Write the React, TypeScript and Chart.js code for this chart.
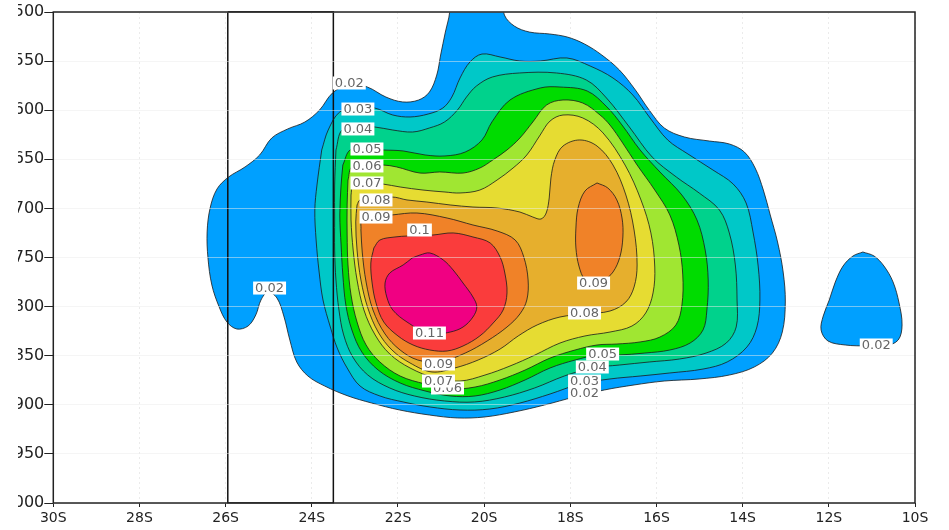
import React, { useEffect, useRef } from 'react';
import { Chart, registerables } from 'chart.js';

Chart.register(...registerables);

type Pt = [number, number]; // [latitude (negative = south), pressure hPa]

// ---- axes ----
const latTicks = [-30, -28, -26, -24, -22, -20, -18, -16, -14, -12, -10];
const pressureTicks = [500, 550, 600, 650, 700, 750, 800, 850, 900, 950, 1000];
const boxLats = [-25.95, -23.5];
const boxPressures = [500, 1000];

// ---- contour outlines ----
const contour002Main: Pt[] = [
  [-20.8, 477.6], [-19.64, 477.6], [-19.53, 503.1], [-19.3, 514.3], [-18.95, 520.4], [-18.48, 522.4],
  [-18.07, 525.5], [-17.67, 532.6], [-17.27, 543.8], [-16.86, 559.1], [-16.49, 579.4], [-16.17, 599.8],
  [-15.82, 618.1], [-15.35, 627.3], [-14.77, 631.4], [-14.31, 634.4], [-13.96, 642.6], [-13.71, 658.9],
  [-13.52, 681.3], [-13.36, 706.7], [-13.19, 734.2], [-13.06, 764.8], [-13.01, 795.3], [-13.08, 825.9],
  [-13.31, 847.3], [-13.73, 861.5], [-14.31, 869.7], [-15.01, 873.7], [-15.82, 875.8], [-16.52, 879.8],
  [-17.21, 884.9], [-17.91, 892.1], [-18.6, 900.2], [-19.3, 907.3], [-19.99, 912.4], [-20.62, 913.4],
  [-21.27, 910.4], [-21.96, 905.3], [-22.61, 898.2], [-23.16, 891.0], [-23.7, 880.9], [-24.09, 870.7],
  [-24.35, 856.4], [-24.51, 834.0], [-24.65, 809.6], [-24.81, 791.2], [-25.02, 785.1], [-25.18, 793.3],
  [-25.3, 808.5], [-25.48, 819.8], [-25.74, 822.8], [-25.97, 815.7], [-26.15, 800.4], [-26.32, 778.0],
  [-26.41, 750.5], [-26.43, 724.0], [-26.36, 699.6], [-26.2, 680.2], [-25.93, 668.0], [-25.55, 657.8],
  [-25.21, 645.6], [-24.93, 628.3], [-24.56, 619.1], [-24.16, 612.0], [-23.82, 599.8], [-23.52, 582.5],
  [-23.12, 573.3], [-22.71, 576.4], [-22.28, 586.6], [-21.89, 591.6], [-21.52, 589.6], [-21.27, 581.5],
  [-21.1, 564.2], [-21.01, 543.8], [-20.9, 520.4], [-20.8, 500.0], [-20.8, 477.6],
];
const contour002East: Pt[] = [
  [-11.21, 744.4], [-10.95, 748.5], [-10.72, 758.7], [-10.51, 774.9], [-10.37, 796.3], [-10.3, 818.7],
  [-10.39, 834.0], [-10.69, 840.1], [-11.11, 840.1], [-11.62, 839.1], [-12.02, 835.0], [-12.18, 823.8],
  [-12.13, 809.6], [-11.99, 793.3], [-11.85, 775.0], [-11.67, 758.7], [-11.44, 748.5], [-11.21, 744.4],
];
const contour003: Pt[] = [
  [-23.77, 640.5], [-23.62, 620.2], [-23.35, 601.8], [-22.93, 597.8], [-22.54, 597.8], [-22.12, 604.9],
  [-21.72, 606.9], [-21.3, 603.9], [-20.96, 597.8], [-20.75, 586.6], [-20.56, 567.2], [-20.33, 550.9],
  [-20.05, 542.8], [-19.63, 545.8], [-19.17, 549.9], [-18.7, 549.9], [-18.08, 546.8], [-17.54, 555.0],
  [-17.01, 567.2], [-16.55, 584.5], [-16.15, 607.9], [-15.74, 630.3], [-15.27, 644.6], [-14.69, 660.9],
  [-14.22, 675.2], [-13.92, 694.5], [-13.76, 724.0], [-13.64, 758.7], [-13.6, 793.3], [-13.67, 820.8],
  [-13.9, 841.1], [-14.36, 856.4], [-14.92, 863.6], [-15.69, 867.6], [-16.38, 870.7], [-17.08, 873.7],
  [-17.78, 878.8], [-18.47, 889.0], [-19.17, 898.2], [-19.87, 904.3], [-20.56, 905.3], [-21.26, 902.2],
  [-21.88, 897.1], [-22.42, 891.0], [-22.88, 880.9], [-23.18, 862.5], [-23.41, 842.2], [-23.57, 820.8],
  [-23.74, 793.3], [-23.83, 764.8], [-23.9, 732.2], [-23.93, 701.6], [-23.88, 676.2], [-23.77, 640.5],
];
const contour004: Pt[] = [
  [-23.44, 640.5], [-23.3, 620.2], [-22.93, 617.1], [-22.54, 617.1], [-22.12, 620.2], [-21.66, 622.2],
  [-21.27, 618.1], [-20.92, 612.0], [-20.62, 599.8], [-20.41, 586.6], [-20.18, 575.4], [-19.81, 566.2],
  [-19.18, 562.1], [-18.32, 562.1], [-17.63, 569.2], [-17.16, 587.6], [-16.63, 617.1], [-16.1, 647.7],
  [-15.54, 668.0], [-15.01, 684.3], [-14.54, 701.6], [-14.31, 725.0], [-14.17, 757.6], [-14.13, 793.3],
  [-14.15, 820.8], [-14.38, 837.1], [-14.85, 847.3], [-15.47, 853.4], [-16.17, 856.4], [-16.86, 859.5],
  [-17.49, 862.5], [-18.14, 870.7], [-18.83, 882.9], [-19.53, 892.1], [-20.22, 897.1], [-20.92, 896.1],
  [-21.62, 891.0], [-22.19, 882.9], [-22.7, 869.7], [-23.05, 851.3], [-23.26, 828.9], [-23.37, 803.5],
  [-23.44, 772.9], [-23.47, 742.4], [-23.47, 711.8], [-23.47, 676.2], [-23.44, 640.5],
];
const contour005: Pt[] = [
  [-23.28, 655.8], [-23.11, 640.5], [-22.72, 639.5], [-22.35, 640.5], [-21.88, 641.5], [-21.37, 645.6],
  [-20.91, 646.6], [-20.44, 642.6], [-20.05, 630.3], [-19.82, 612.0], [-19.4, 589.6], [-18.7, 577.4],
  [-18.24, 576.4], [-17.61, 580.4], [-17.15, 596.7], [-16.8, 615.1], [-16.38, 640.5], [-15.92, 662.9],
  [-15.41, 686.4], [-15.06, 711.8], [-14.87, 742.4], [-14.8, 772.9], [-14.83, 803.5], [-14.92, 823.8],
  [-15.22, 837.1], [-15.69, 844.2], [-16.27, 847.3], [-16.89, 849.3], [-17.36, 849.3], [-17.89, 854.4],
  [-18.47, 862.5], [-19.05, 874.7], [-19.63, 884.9], [-20.21, 891.0], [-20.79, 891.0], [-21.37, 885.9],
  [-21.95, 877.8], [-22.46, 864.6], [-22.84, 846.2], [-23.07, 823.8], [-23.21, 798.4], [-23.28, 767.8],
  [-23.32, 737.3], [-23.35, 706.7], [-23.32, 676.2], [-23.28, 655.8],
];
const contour006: Pt[] = [
  [-23.16, 671.1], [-23.07, 657.8], [-22.72, 656.8], [-22.35, 655.8], [-22.03, 657.8], [-21.49, 664.0],
  [-21.03, 662.9], [-20.49, 664.0], [-20.1, 658.9], [-19.8, 650.7], [-19.47, 640.5], [-19.17, 628.3],
  [-18.87, 612.0], [-18.55, 594.7], [-18.17, 589.6], [-17.71, 592.7], [-17.31, 604.9], [-17.08, 615.1],
  [-16.8, 632.4], [-16.45, 655.8], [-16.04, 681.3], [-15.69, 706.7], [-15.48, 737.3], [-15.39, 767.8],
  [-15.41, 798.4], [-15.55, 818.7], [-15.92, 831.0], [-16.38, 836.0], [-16.92, 838.1], [-17.38, 839.1],
  [-17.89, 844.2], [-18.47, 852.4], [-19.05, 864.6], [-19.63, 874.7], [-20.21, 881.9], [-20.79, 883.9],
  [-21.37, 878.8], [-21.95, 870.7], [-22.42, 856.4], [-22.74, 839.1], [-22.95, 815.7], [-23.09, 788.2],
  [-23.16, 757.6], [-23.18, 727.1], [-23.18, 696.5], [-23.16, 671.1],
];
const contour007: Pt[] = [
  [-23.09, 686.4], [-23.04, 676.2], [-22.72, 674.1], [-22.35, 675.2], [-21.95, 678.2], [-21.42, 681.3],
  [-20.91, 683.3], [-20.56, 684.3], [-20.1, 681.3], [-19.7, 671.1], [-19.33, 658.9], [-19.01, 645.6],
  [-18.7, 625.3], [-18.47, 611.0], [-18.17, 604.9], [-17.71, 607.9], [-17.24, 623.2], [-16.73, 655.8],
  [-16.36, 691.4], [-16.13, 725.0], [-16.04, 759.7], [-16.08, 786.1], [-16.25, 806.5], [-16.57, 819.8],
  [-17.08, 825.9], [-17.66, 829.9], [-18.24, 837.1], [-18.82, 849.3], [-19.4, 860.5], [-19.98, 869.7],
  [-20.56, 875.8], [-21.14, 872.7], [-21.72, 862.5], [-22.19, 848.3], [-22.53, 828.9], [-22.79, 803.5],
  [-22.95, 772.9], [-23.04, 742.4], [-23.09, 711.8], [-23.09, 686.4],
];
const contour008: Pt[] = [
  [-22.95, 696.5], [-22.88, 691.4], [-22.51, 691.4], [-22.14, 688.4], [-21.79, 691.4], [-21.33, 693.5],
  [-20.79, 696.5], [-20.26, 698.6], [-19.7, 699.6], [-19.17, 703.7], [-18.87, 708.8], [-18.68, 710.8],
  [-18.56, 704.7], [-18.49, 689.4], [-18.45, 669.0], [-18.36, 650.7], [-18.17, 636.5], [-17.78, 630.3],
  [-17.38, 636.5], [-17.01, 655.8], [-16.71, 686.4], [-16.52, 722.0], [-16.45, 757.6], [-16.52, 780.0],
  [-16.71, 795.3], [-17.08, 804.5], [-17.66, 807.5], [-18.24, 810.6], [-18.77, 818.7], [-19.21, 829.9],
  [-19.63, 843.2], [-20.14, 854.4], [-20.68, 862.5], [-21.21, 866.6], [-21.72, 857.4], [-22.14, 844.2],
  [-22.46, 825.9], [-22.7, 801.4], [-22.86, 772.9], [-22.95, 742.4], [-22.98, 713.8], [-22.95, 696.5],
];
const contour009West: Pt[] = [
  [-22.86, 722.0], [-22.83, 709.8], [-22.51, 708.8], [-22.14, 706.7], [-21.56, 704.7], [-20.86, 709.8],
  [-20.26, 716.9], [-19.7, 723.0], [-19.28, 732.2], [-19.08, 749.5], [-18.98, 772.9], [-19.01, 793.3],
  [-19.17, 807.5], [-19.47, 820.8], [-19.93, 835.0], [-20.44, 847.3], [-21.03, 856.4], [-21.54, 854.4],
  [-21.95, 844.2], [-22.3, 827.9], [-22.58, 803.5], [-22.74, 775.0], [-22.83, 744.4], [-22.86, 722.0],
];
const contour009East: Pt[] = [
  [-17.38, 674.1], [-17.13, 679.2], [-16.92, 691.4], [-16.8, 709.8], [-16.78, 729.1], [-16.85, 749.5],
  [-17.01, 764.8], [-17.24, 773.9], [-17.45, 777.0], [-17.66, 772.9], [-17.8, 758.7], [-17.87, 740.3],
  [-17.87, 720.0], [-17.82, 699.6], [-17.66, 682.3], [-17.38, 674.1],
];
const contour010: Pt[] = [
  [-22.56, 740.3], [-22.42, 732.2], [-22.07, 729.1], [-21.77, 728.1], [-21.19, 727.1], [-20.72, 725.0],
  [-20.26, 729.1], [-19.86, 735.2], [-19.63, 749.5], [-19.52, 765.8], [-19.47, 786.1], [-19.56, 803.5],
  [-19.79, 816.7], [-20.1, 829.9], [-20.49, 840.1], [-20.86, 845.2], [-21.26, 844.2], [-21.65, 839.1],
  [-22.0, 829.9], [-22.33, 815.7], [-22.51, 796.3], [-22.6, 776.0], [-22.63, 755.6], [-22.56, 740.3],
];
const contour011: Pt[] = [
  [-21.67, 750.5], [-21.49, 747.5], [-21.26, 745.4], [-20.95, 752.5], [-20.72, 762.7], [-20.49, 776.0],
  [-20.26, 790.2], [-20.17, 800.4], [-20.26, 810.6], [-20.49, 820.8], [-20.79, 825.9], [-21.26, 828.0],
  [-21.79, 815.7], [-22.12, 803.5], [-22.26, 790.2], [-22.3, 776.0], [-22.19, 765.8], [-21.88, 757.6],
  [-21.67, 750.5],
];

const contourShapes: Pt[][] = [
  contour002Main, contour002East, contour003, contour004, contour005, contour006,
  contour007, contour008, contour009West, contour009East, contour010, contour011,
];
const contourLevels = [0.02, 0.02, 0.03, 0.04, 0.05, 0.06, 0.07, 0.08, 0.09, 0.09, 0.1, 0.11];

// ---- contour labels ----
const labelTexts = ['0.02', '0.03', '0.04', '0.05', '0.06', '0.07', '0.08', '0.09', '0.1', '0.11',
  '0.09', '0.06', '0.07', '0.08', '0.09', '0.05', '0.04', '0.03', '0.02', '0.02', '0.02'];
const labelLats = [-23.13, -22.93, -22.93, -22.72, -22.72, -22.72, -22.51, -22.51, -21.5, -21.27,
  -21.06, -20.85, -21.06, -17.67, -17.46, -17.25, -17.49, -17.67, -17.67, -24.98, -10.9];
const labelPressures = [572.3, 598.8, 619.1, 639.5, 656.8, 674.1, 691.4, 708.8, 722.0, 826.9,
  858.5, 882.9, 875.8, 806.5, 776.0, 848.3, 861.5, 875.8, 888.0, 781.1, 839.1];

// ---- styles (kept apart from data) ----
const levelColors: Record<string, string> = {
  '0.02': 'rgb(0,160,255)',
  '0.03': 'rgb(0,200,200)',
  '0.04': 'rgb(0,210,140)',
  '0.05': 'rgb(0,220,0)',
  '0.06': 'rgb(160,230,50)',
  '0.07': 'rgb(230,220,50)',
  '0.08': 'rgb(230,175,45)',
  '0.09': 'rgb(240,130,40)',
  '0.1': 'rgb(250,60,60)',
  '0.11': 'rgb(240,0,130)',
};

const contourFillPlugin = {
  id: 'contourFill',
  beforeDatasetsDraw(chart: any) {
    const ctx = chart.ctx;
    const a = chart.chartArea;
    ctx.save();
    ctx.beginPath();
    ctx.rect(a.left, a.top, a.right - a.left, a.bottom - a.top);
    ctx.clip();
    chart.data.datasets.forEach((ds: any, i: number) => {
      if (!ds.fillColor) return;
      const meta = chart.getDatasetMeta(i);
      const line = meta.dataset;
      ctx.beginPath();
      let done = false;
      try {
        if (line && typeof line.path === 'function') {
          if (typeof line.updateControlPoints === 'function') line.updateControlPoints(a, 'x');
          line.path(ctx);
          done = true;
        }
      } catch (e) {
        done = false;
      }
      if (!done) {
        ctx.beginPath();
        meta.data.forEach((p: any, k: number) => (k === 0 ? ctx.moveTo(p.x, p.y) : ctx.lineTo(p.x, p.y)));
      }
      ctx.closePath();
      ctx.fillStyle = ds.fillColor;
      ctx.fill();
    });
    ctx.restore();
  },
};

const overlayPlugin = {
  id: 'overlay',
  afterDraw(chart: any) {
    const ctx = chart.ctx;
    const a = chart.chartArea;
    const xs = chart.scales.x;
    const ys = chart.scales.y;
    ctx.save();
    ctx.font = '13px "DejaVu Sans", sans-serif';
    ctx.textAlign = 'center';
    ctx.textBaseline = 'middle';
    labelTexts.forEach((t, i) => {
      const x = xs.getPixelForValue(labelLats[i]);
      const y = ys.getPixelForValue(labelPressures[i]);
      const w = ctx.measureText(t).width + 4;
      const h = 13;
      ctx.fillStyle = '#ffffff';
      ctx.fillRect(x - w / 2, y - h / 2, w, h);
      ctx.fillStyle = '#666666';
      ctx.fillText(t, x, y + 0.5);
    });
    ctx.strokeStyle = '#222';
    ctx.lineWidth = 1.5;
    ctx.strokeRect(a.left, a.top, a.right - a.left, a.bottom - a.top);
    ctx.restore();
  },
};

export default function App() {
  const ref = useRef<HTMLCanvasElement | null>(null);
  useEffect(() => {
    if (!ref.current) return;
    const datasets: any[] = contourShapes.map((shape, i) => ({
      data: shape.map(([lat, p]) => ({ x: lat, y: p })),
      fillColor: levelColors[String(contourLevels[i])],
      borderColor: '#1a1a1a',
      borderWidth: 0.8,
      tension: 0.35,
      pointRadius: 0,
      fill: false,
    }));
    datasets.push({
      data: [
        { x: boxLats[0], y: boxPressures[0] },
        { x: boxLats[0], y: boxPressures[1] },
        { x: boxLats[1], y: boxPressures[1] },
        { x: boxLats[1], y: boxPressures[0] },
        { x: boxLats[0], y: boxPressures[0] },
      ],
      borderColor: '#111',
      borderWidth: 1.5,
      tension: 0,
      pointRadius: 0,
      fill: false,
      clip: false,
    });
    const chart = new Chart(ref.current, {
      type: 'line',
      data: { datasets },
      options: {
        animation: false,
        responsive: true,
        maintainAspectRatio: false,
        layout: { padding: { left: 0, right: 34, top: 12, bottom: 0 } },
        plugins: { legend: { display: false }, tooltip: { enabled: false }, title: { display: false } },
        events: [],
        scales: {
          x: {
            type: 'linear',
            min: -30,
            max: -10,
            afterBuildTicks: (s: any) => { s.ticks = latTicks.map((v) => ({ value: v })); },
            afterFit: (s: any) => { s.height = 27; },
            ticks: {
              autoSkip: false,
              maxRotation: 0,
              padding: 3,
              color: '#222',
              font: { family: 'DejaVu Sans', size: 14 },
              callback: (v: any) => `${Math.abs(Number(v))}S`,
            },
            grid: { z: -1, color: 'rgba(0,0,0,0.08)', tickColor: '#222', tickLength: 4, lineWidth: 1 },
            border: { display: false, dash: [2, 3] },
          },
          y: {
            type: 'linear',
            reverse: true,
            min: 500,
            max: 1000,
            afterBuildTicks: (s: any) => { s.ticks = pressureTicks.map((v) => ({ value: v })); },
            afterFit: (s: any) => { s.width = 35.3; },
            ticks: {
              autoSkip: false,
              padding: 0,
              color: '#222',
              font: { family: 'DejaVu Sans', size: 16 },
              callback: (v: any) => String(v),
            },
            grid: { z: 1, color: 'rgba(235,235,235,0.5)', tickColor: '#222', tickLength: 9, lineWidth: 1 },
            border: { display: false },
          },
        },
      } as any,
      plugins: [contourFillPlugin, overlayPlugin],
    });
    return () => chart.destroy();
  }, []);
  return (
    <div style={{ position: 'absolute', left: 18, top: 0, width: 931, height: 530 }}>
      <canvas ref={ref} />
    </div>
  );
}
